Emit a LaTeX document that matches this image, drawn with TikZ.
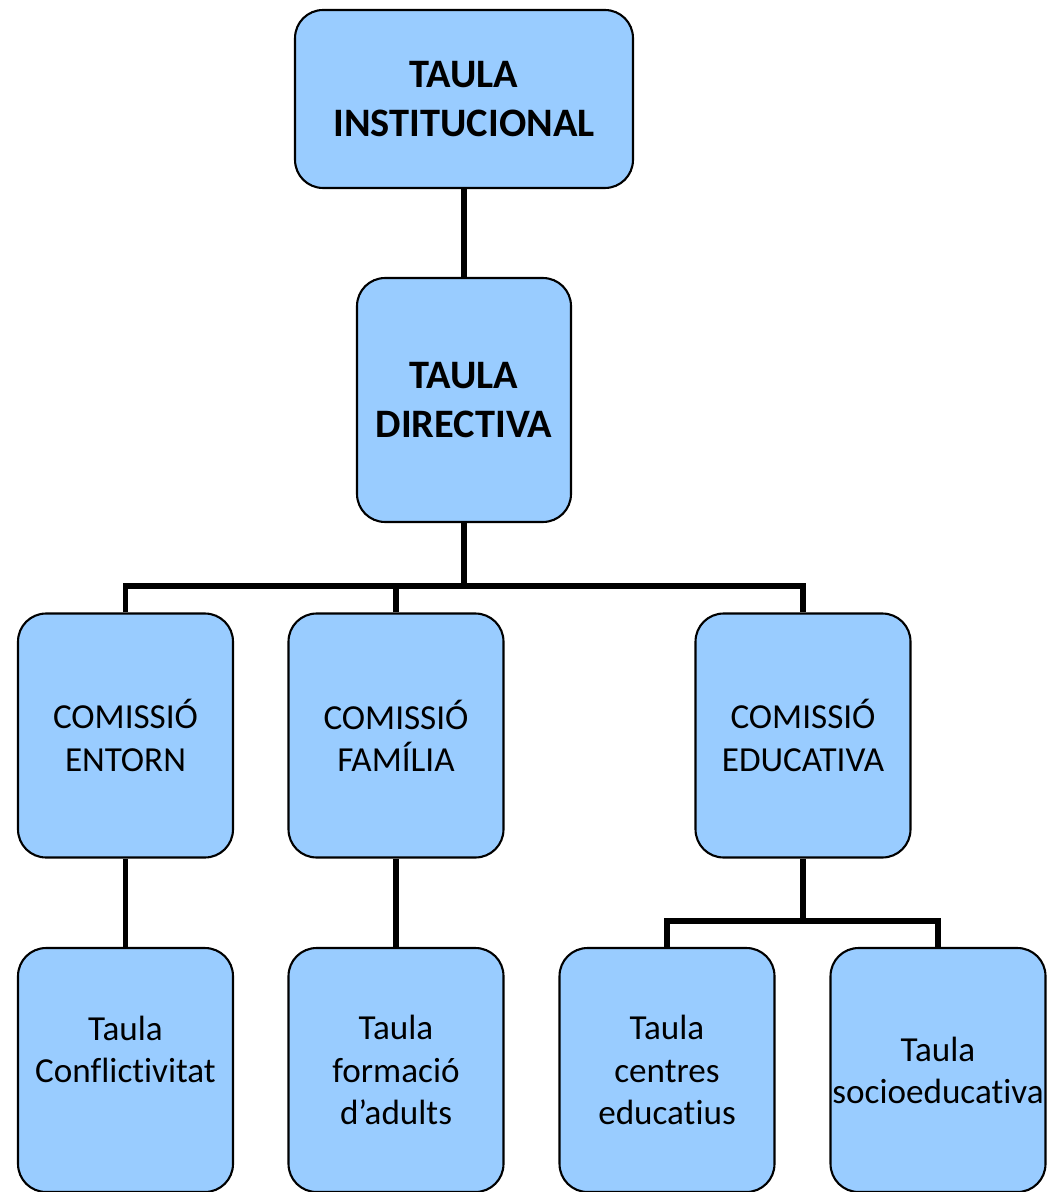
\documentclass[tikz,border=0pt]{standalone}
\usepackage{fontspec}
\setmainfont{Carlito}[Ligatures=NoCommon]
\usepackage{tikz}
\usetikzlibrary{positioning, calc}
\definecolor{boxblue}{HTML}{99CCFF}

\begin{document}
\begin{tikzpicture}[x=0.02cm, y=-0.02cm,
  box/.style={draw, line width=1.2pt, fill=boxblue, rounded corners=0.56cm,
    inner sep=0pt, align=center, minimum width=4.3cm, minimum height=4.88cm,
    font=\fontsize{20}{24}\selectfont},
  boldbox/.style={box, font=\fontsize{23}{28}\selectfont\bfseries},
  link/.style={line width=3.4pt}]
\useasboundingbox (0,0) rectangle (1054,1192);

% Top levels
\node[boldbox, minimum width=6.76cm, minimum height=3.56cm] (inst) at (464,99) {TAULA\\INSTITUCIONAL};
\node[boldbox, minimum width=4.28cm] (dir) at (464,400) {TAULA\\DIRECTIVA};

% Commissions
\node[box] (entorn) at (125.5,735.5) {COMISSIÓ\\ENTORN};
\node[box] (familia) at (396,735.5) {COMISSIÓ\\FAMÍLIA};
\node[box] (educ) at (803,735.5) {COMISSIÓ\\EDUCATIVA};

% Tables
\node[box] (conf) at (125.5,1070) {Taula\\Conflictivitat\\\mbox{}};
\node[box] (adults) at (396,1070) {Taula\\formació\\d’adults};
\node[box] (centres) at (667,1070) {Taula\\centres\\educatius};
\node[box] (socio) at (938,1070) {Taula\\socioeducativa};

% Connectors
\coordinate (bus) at (464,586);
\coordinate (bus2) at (803,921);
\draw[link] (inst.south) -- (dir.north);
\draw[link] (dir.south) -- (bus);
\draw[link] (entorn.north) |- (bus) -| (educ.north);
\draw[link] (familia.north) -- (familia.north |- bus);
\draw[link] (entorn.south) -- (conf.north);
\draw[link] (familia.south) -- (adults.north);
\draw[link] (educ.south) -- (bus2);
\draw[link] (centres.north) |- (bus2) -| (socio.north);
\end{tikzpicture}
\end{document}
